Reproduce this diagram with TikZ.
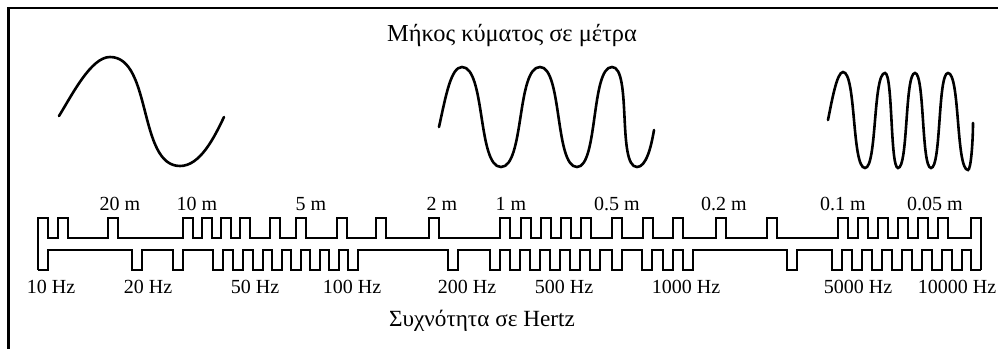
\documentclass[tikz,border=0pt]{standalone}
\usepackage{fontspec}
\setmainfont{Liberation Serif}

\begin{document}
\begin{tikzpicture}[x=0.5pt, y=-0.5pt,
  frame/.style={line width=1.3pt},
  wave/.style={line width=1.3pt, line cap=round},
  strip/.style={line width=1.1pt},
  lbl/.style={anchor=base, inner sep=0pt, font=\fontsize{10}{12}\selectfont}]
\useasboundingbox (0,0) rectangle (998,349);
\draw[frame] (998,8) -- (8.5,8) -- (8.5,349);

\node[lbl, font=\fontsize{12.2}{14}\selectfont] (title) at (512,41) {Μήκος κύματος σε μέτρα};
\node[lbl, font=\fontsize{11.6}{14}\selectfont] (freq) at (482,326) {Συχνότητα σε Hertz};

% long, medium and short waves
\draw[wave] (59,116) .. controls (72,95) and (91,57) .. (110,57)
  .. controls (152,57) and (138,166) .. (180,166)
  .. controls (200,166) and (214,138) .. (224,117);
\draw[wave] (439,127) .. controls (446,95) and (451,67) .. (462,67)
  .. controls (485.4,67) and (477.6,167) .. (501,167)
  .. controls (524.4,167) and (516.6,67) .. (540,67)
  .. controls (562.2,67) and (554.8,167) .. (577,167)
  .. controls (598,167) and (591,67) .. (612,67)
  .. controls (632,67) and (617,167) .. (637,167)
  .. controls (646,167) and (651,148) .. (654,130);
\draw[wave] (828,120) .. controls (832,100) and (837,72) .. (843,72)
  .. controls (856.2,72) and (851.8,168) .. (865,168)
  .. controls (877,168) and (873,73) .. (885,73)
  .. controls (892.8,73) and (890.2,168) .. (898,168)
  .. controls (908.2,168) and (904.8,73) .. (915,73)
  .. controls (924.6,73) and (921.4,168) .. (931,168)
  .. controls (941.2,168) and (937.8,73) .. (948,73)
  .. controls (960,73) and (956,170) .. (968,170)
  .. controls (971,170) and (973,140) .. (973,123);

% the pulse strip
\draw[strip] (38,270) -- (38,218) -- (48,218) -- (48,238)
  foreach \x in {58,108,183,202,221,240,270,296,337,376,429,500,521,541,561,581,612,643,673,716,767,838,858,878,898,918,938}
    { -- (\x,238) -- (\x,218) -- (\x+10,218) -- (\x+10,238) }
  -- (971,238) -- (971,218) -- (981,218) -- (981,270);
\draw[strip] (38,270) -- (48,270) -- (48,250)
  foreach \x in {132,173,213,233,253,272,291,310,329,348,448,490,510,530,550,570,590,612,642,663,683,787,832,852,872,892,912,932,952}
    { -- (\x,250) -- (\x,270) -- (\x+10,270) -- (\x+10,250) }
  -- (971,250) -- (971,270) -- (981,270);

% wavelengths above, frequencies below
\foreach \x/\t [count=\i] in {120/20 m,197/10 m,311/5 m,442/2 m,511/1 m,617/0.5 m,724/0.2 m,843/0.1 m,935/0.05 m}
  \node[lbl] (wl\i) at (\x,210) {\t};
\foreach \x/\t [count=\i] in {51/10 Hz,148/20 Hz,255/50 Hz,352/100 Hz,467/200 Hz,564/500 Hz,686/1000 Hz,858/5000 Hz,957/10000 Hz}
  \node[lbl] (fq\i) at (\x,293) {\t};
\end{tikzpicture}
\end{document}
